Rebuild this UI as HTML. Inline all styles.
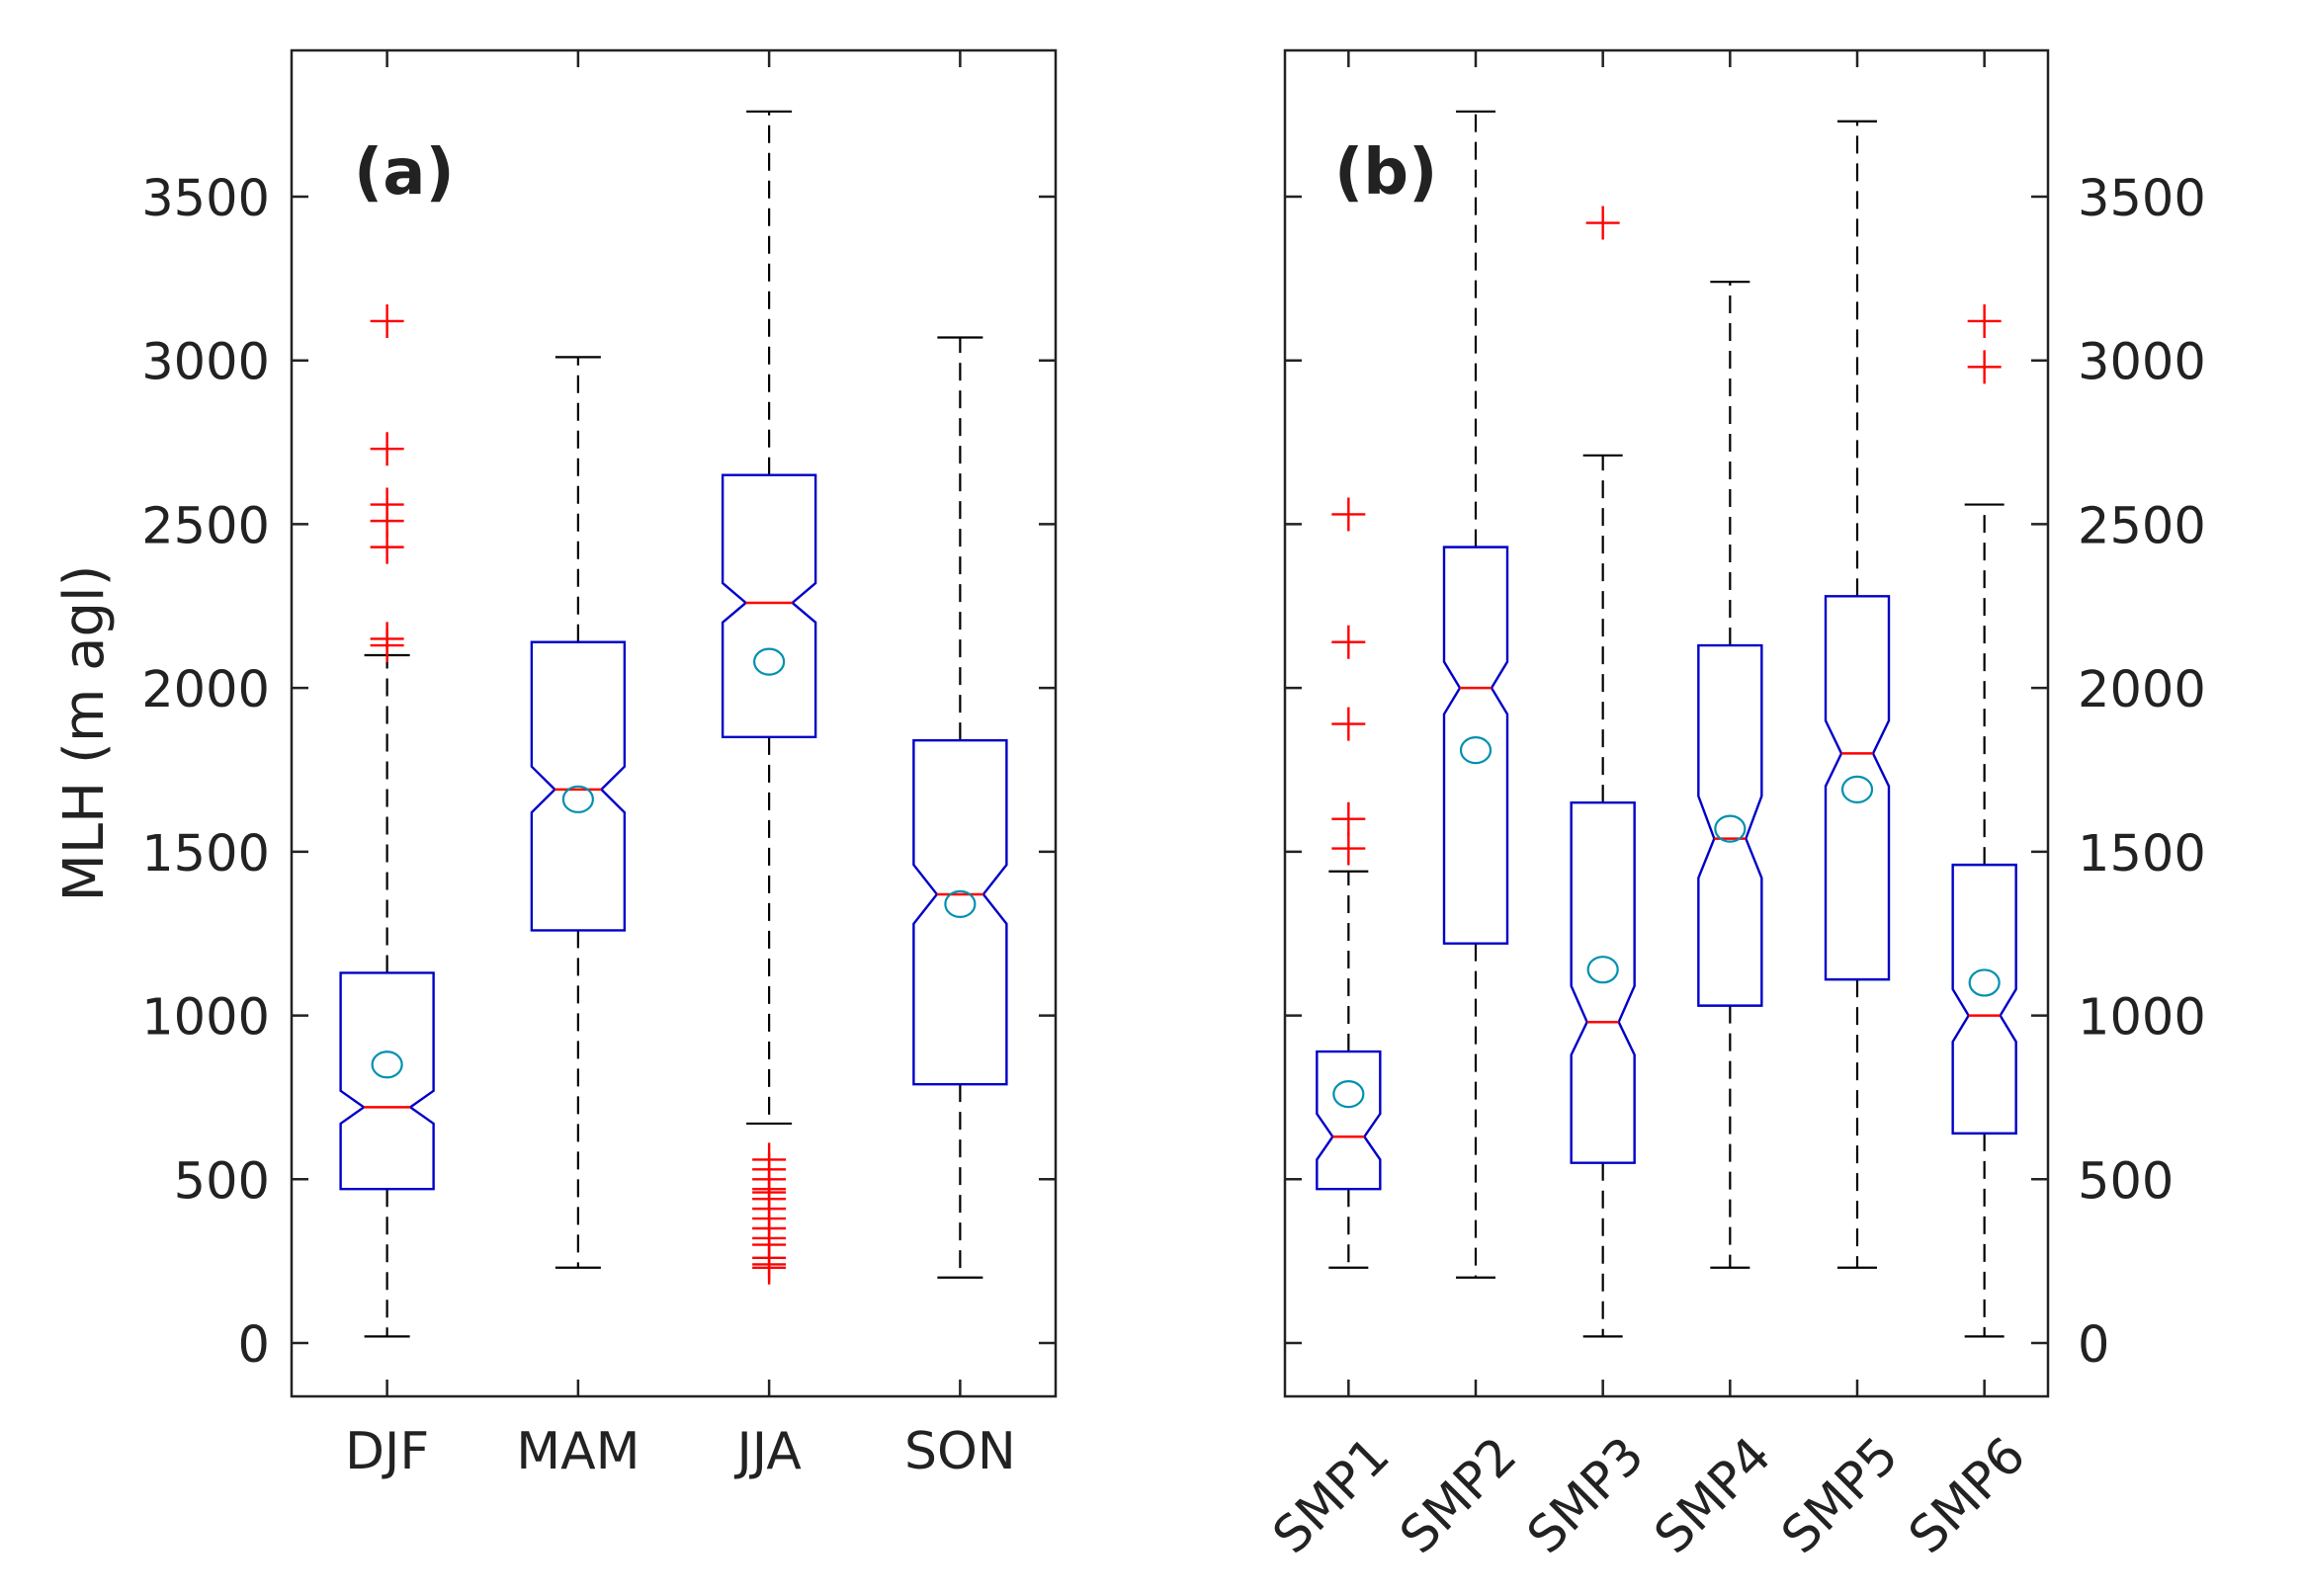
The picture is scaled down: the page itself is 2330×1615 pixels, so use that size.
<!DOCTYPE html>
<html><head><meta charset="utf-8"><style>
html,body{margin:0;padding:0;background:#fff}
svg{display:block}
text{font-family:"DejaVu Sans","Liberation Sans",sans-serif;fill:#222}
</style></head><body>
<svg id="chart" width="2330" height="1615" viewBox="0 0 2330 1615" xmlns="http://www.w3.org/2000/svg"></svg>
<script>
const seasonCats = ["DJF","MAM","JJA","SON"];
const seasonLow = [20,230,670,200];
const seasonQ1 = [470,1260,1850,790];
const seasonMed = [720,1690,2260,1370];
const seasonQ3 = [1130,2140,2650,1840];
const seasonHigh = [2100,3010,3760,3070];
const seasonMean = [850,1660,2080,1340];
const seasonNotchLo = [670,1620,2200,1280];
const seasonNotchHi = [770,1760,2320,1460];
const seasonOutliers = [[3120,2730,2560,2510,2430,2150,2130],[],[560,530,500,470,460,440,410,380,350,320,300,260,240,230],[]];

const smpCats = ["SMP1","SMP2","SMP3","SMP4","SMP5","SMP6"];
const smpLow = [230,200,20,230,230,20];
const smpQ1 = [470,1220,550,1030,1110,640];
const smpMed = [630,2000,980,1540,1800,1000];
const smpQ3 = [890,2430,1650,2130,2280,1460];
const smpHigh = [1440,3760,2710,3240,3730,2560];
const smpMean = [760,1810,1140,1570,1690,1100];
const smpNotchLo = [560,1920,880,1420,1700,920];
const smpNotchHi = [700,2080,1090,1670,1900,1080];
const smpOutliers = [[2530,2140,1890,1600,1510],[],[3420],[],[],[3120,2980]];

const yTicks = [0,500,1000,1500,2000,2500,3000,3500];

const NS="http://www.w3.org/2000/svg";
const svg=document.getElementById("chart");
function mk(tag,attrs,parent){const e=document.createElementNS(NS,tag);for(const k in attrs)e.setAttribute(k,attrs[k]);(parent||svg).appendChild(e);return e;}
const TOP=51,BOT=1413;
function yS(v){return 1359-v*(1359-199)/3500;}

function panelWrap(id,x0,x1,cats,low,q1,med,q3,high,mean,nlo,nhi,outs,hw,capw,right,rot,label){
  const g=mk("g",{});
  
  
  const n=cats.length, step=(x1-x0)/n;
  const xS=i=>x0+step*(i+0.5);
  const frame=mk("rect",{x:x0,y:TOP,width:x1-x0,height:BOT-TOP,fill:"none",stroke:"#222","stroke-width":2.5},g);
  
  
  yTicks.forEach(t=>{
    const y=yS(t);
    mk("line",{x1:x0,x2:x0+17,y1:y,y2:y,stroke:"#222","stroke-width":2.5},g);
    mk("line",{x1:x1-17,x2:x1,y1:y,y2:y,stroke:"#222","stroke-width":2.5},g);
    const tx=mk("text",{x:right?x1+30:x0-22,y:y+19,"font-size":51,"text-anchor":right?"start":"end"},g);
    tx.textContent=t;
    
    
  });
  cats.forEach((c,i)=>{
    const x=xS(i);
    mk("line",{x1:x,x2:x,y1:TOP,y2:TOP+17,stroke:"#222","stroke-width":2.5},g);
    mk("line",{x1:x,x2:x,y1:BOT-17,y2:BOT,stroke:"#222","stroke-width":2.5},g);
    let t;
    if(rot){ t=mk("text",{x:x+44,y:1476,"font-size":51,"text-anchor":"end",transform:`rotate(-45 ${x+44} 1476)`},g); }
    else { t=mk("text",{x:x,y:1486,"font-size":52,"text-anchor":"middle"},g); }
    t.textContent=c;
    
    
    const w1=mk("line",{x1:x,x2:x,y1:yS(q3[i]),y2:yS(high[i]),stroke:"#000","stroke-width":2.2,"stroke-dasharray":"18 10"},g);
    
    
    const w2=mk("line",{x1:x,x2:x,y1:yS(q1[i]),y2:yS(low[i]),stroke:"#000","stroke-width":2.2,"stroke-dasharray":"18 10"},g);
    
    
    mk("line",{x1:x-capw,x2:x+capw,y1:yS(high[i]),y2:yS(high[i]),stroke:"#000","stroke-width":2.2},g);
    mk("line",{x1:x-capw,x2:x+capw,y1:yS(low[i]),y2:yS(low[i]),stroke:"#000","stroke-width":2.2},g);
    const ni=hw*0.5;
    const pts=[[x-hw,yS(q1[i])],[x-hw,yS(nlo[i])],[x-hw+ni,yS(med[i])],[x-hw,yS(nhi[i])],[x-hw,yS(q3[i])],
      [x+hw,yS(q3[i])],[x+hw,yS(nhi[i])],[x+hw-ni,yS(med[i])],[x+hw,yS(nlo[i])],[x+hw,yS(q1[i])]];
    const box=mk("polygon",{points:pts.map(p=>p.join(",")).join(" "),fill:"none",stroke:"#0000c8","stroke-width":2.4},g);
    
    
    const m=mk("line",{x1:x-hw+ni,x2:x+hw-ni,y1:yS(med[i]),y2:yS(med[i]),stroke:"#ff0000","stroke-width":2.5},g);
    
    
    const mc=mk("ellipse",{cx:x,cy:yS(mean[i]),rx:15,ry:13,fill:"none",stroke:"#0090b0","stroke-width":2.2},g);
    
    
    outs[i].forEach(v=>{
      const y=yS(v);
      const o=mk("path",{d:`M${x-17},${y}H${x+17}M${x},${y-17}V${y+17}`,stroke:"#ff0000","stroke-width":2.4,fill:"none"},g);
      
      
    });
  });
  const lb=mk("text",{x:label.x,y:196,"font-size":64,"font-weight":"bold"},g);
  lb.textContent=label.t;
  
  
}
panelWrap("panel-a",295,1068,seasonCats,seasonLow,seasonQ1,seasonMed,seasonQ3,seasonHigh,seasonMean,seasonNotchLo,seasonNotchHi,seasonOutliers,47,23,false,false,{x:358,t:"(a)"});
panelWrap("panel-b",1300,2072,smpCats,smpLow,smpQ1,smpMed,smpQ3,smpHigh,smpMean,smpNotchLo,smpNotchHi,smpOutliers,32,20,true,true,{x:1350,t:"(b)"});
const yl=mk("text",{x:0,y:0,"font-size":56,"text-anchor":"middle",transform:"translate(104 742) rotate(-90)"});
yl.textContent="MLH (m agl)";


</script>
</body></html>
